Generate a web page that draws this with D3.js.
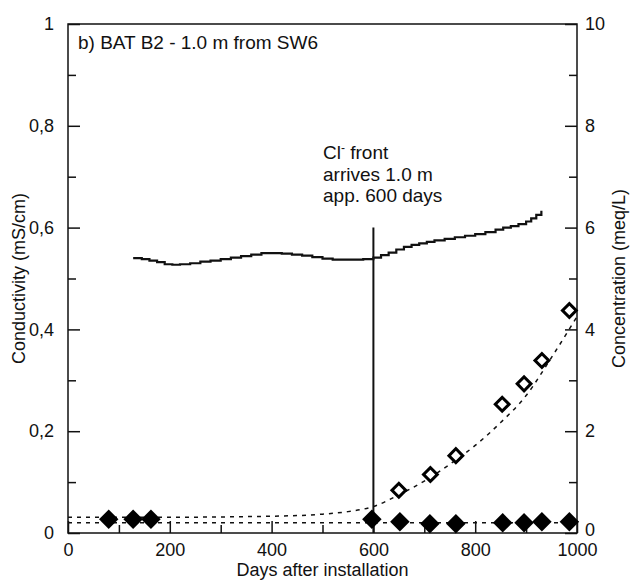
<!DOCTYPE html>
<html>
<head>
<meta charset="utf-8">
<script src="https://cdn.jsdelivr.net/npm/d3@7"></script>
<style>
  body { margin: 0; background: #fff; }
  svg text { font-family: 'Liberation Sans', Arial, sans-serif; fill: #111; }
</style>
</head>
<body>
<svg id="svg" width="630" height="581"></svg>
<script>
// conductivity (mS/cm), left axis
const condDays = [128, 145, 160, 175, 190, 205, 220, 240, 260, 280, 300, 320, 340, 360, 380, 400, 420, 440, 460, 480, 500, 520, 540, 560, 580, 600, 615, 630, 645, 660, 675, 690, 705, 720, 740, 760, 780, 800, 820, 840, 855, 870, 885, 900, 910, 920, 930]
const condValues = [0.54, 0.538, 0.535, 0.532, 0.528, 0.527, 0.528, 0.53, 0.533, 0.535, 0.538, 0.541, 0.544, 0.547, 0.55, 0.55, 0.549, 0.547, 0.545, 0.542, 0.539, 0.537, 0.537, 0.537, 0.538, 0.541, 0.546, 0.551, 0.557, 0.562, 0.566, 0.569, 0.572, 0.575, 0.578, 0.581, 0.584, 0.587, 0.591, 0.596, 0.6, 0.603, 0.607, 0.612, 0.618, 0.625, 0.633]

// Cl- concentration (meq/L), right axis, open diamonds
const clDays = [650, 712, 762, 853, 896, 931, 985]
const clValues = [0.84, 1.15, 1.52, 2.53, 2.93, 3.39, 4.37]

// other concentration (meq/L), filled diamonds
const baseDays = [80, 128, 163, 597, 652, 711, 762, 854, 896, 931, 985]
const baseValues = [0.27, 0.27, 0.27, 0.27, 0.22, 0.18, 0.18, 0.2, 0.2, 0.22, 0.22]

// dashed fitted curves (meq/L)
const fitDays = [0, 200, 400, 500, 550, 600, 650, 700, 750, 800, 850, 900, 950, 1000]
const fitValues = [0.31, 0.31, 0.33, 0.37, 0.42, 0.52, 0.75, 1.02, 1.35, 1.72, 2.17, 2.7, 3.45, 4.25]
const flatDays = [0, 1000]
const flatValues = [0.2, 0.2]

const frontDay = 600
const frontTop = 0.6

const leftTicks = [0, 0.2, 0.4, 0.6, 0.8, 1]
const rightTicks = [0, 2, 4, 6, 8, 10]
const xTicks = [0, 200, 400, 600, 800, 1000]

const margin = { left: 68, right: 577, top: 24, bottom: 533 }

const x = d3.scaleLinear().domain([0, 1000]).range([margin.left, margin.right])
const yL = d3.scaleLinear().domain([0, 1]).range([margin.bottom, margin.top])
const yR = d3.scaleLinear().domain([0, 10]).range([margin.bottom, margin.top])

const svg = d3.select('#svg')
const fmtL = d => d === 0 || d === 1 ? String(d) : d3.format('.1f')(d).replace('.', ',')

// frame
svg.append('rect')
  .attr('x', margin.left).attr('y', margin.top)
  .attr('width', margin.right - margin.left).attr('height', margin.bottom - margin.top)
  .attr('fill', 'none').attr('stroke', '#111').attr('stroke-width', 1.5)

// minor + major ticks, pointing inward
const bottomAxis = svg.append('g').attr('transform', `translate(0,${margin.bottom})`)
bottomAxis.call(d3.axisTop(x).tickValues(d3.range(100, 1000, 200)).tickSize(8).tickFormat(''))
bottomAxis.call(g => g.select('.domain').remove())
const bottomMajor = svg.append('g').attr('transform', `translate(0,${margin.bottom})`)
bottomMajor.call(d3.axisTop(x).tickValues(xTicks).tickSize(12).tickFormat(''))
bottomMajor.call(g => g.select('.domain').remove())
svg.append('g').attr('transform', `translate(0,${margin.bottom})`)
  .call(d3.axisBottom(x).tickValues(xTicks).tickSize(0).tickPadding(10).tickFormat(d3.format('d')))
  .call(g => g.select('.domain').remove())
  .selectAll('text').style('font-size', '18px')

const leftMinor = svg.append('g').attr('transform', `translate(${margin.left},0)`)
leftMinor.call(d3.axisRight(yL).tickValues(d3.range(0.1, 1, 0.2)).tickSize(8).tickFormat(''))
leftMinor.call(g => g.select('.domain').remove())
svg.append('g').attr('transform', `translate(${margin.left},0)`)
  .call(d3.axisRight(yL).tickValues(leftTicks).tickSize(12).tickFormat(''))
  .call(g => g.select('.domain').remove())
svg.append('g').attr('transform', `translate(${margin.left},0)`)
  .call(d3.axisLeft(yL).tickValues(leftTicks).tickSize(0).tickPadding(14).tickFormat(fmtL))
  .call(g => g.select('.domain').remove())
  .selectAll('text').style('font-size', '18px')

const rightMinor = svg.append('g').attr('transform', `translate(${margin.right},0)`)
rightMinor.call(d3.axisLeft(yR).tickValues(d3.range(1, 10, 2)).tickSize(8).tickFormat(''))
rightMinor.call(g => g.select('.domain').remove())
svg.append('g').attr('transform', `translate(${margin.right},0)`)
  .call(d3.axisLeft(yR).tickValues(rightTicks).tickSize(12).tickFormat(''))
  .call(g => g.select('.domain').remove())
svg.append('g').attr('transform', `translate(${margin.right},0)`)
  .call(d3.axisRight(yR).tickValues(rightTicks).tickSize(0).tickPadding(8))
  .call(g => g.select('.domain').remove())
  .selectAll('text').style('font-size', '18px')
  .attr('dy', d => d === 0 ? '0.12em' : '0.32em')

svg.selectAll('.tick line').attr('stroke', '#111').attr('stroke-width', 1.5)

// axis titles
svg.append('text')
  .attr('x', (margin.left + margin.right) / 2).attr('y', 576)
  .attr('text-anchor', 'middle').style('font-size', '18px')
  .text('Days after installation')
svg.append('text')
  .attr('transform', `translate(25,${(margin.top + margin.bottom) / 2}) rotate(-90)`)
  .attr('text-anchor', 'middle').style('font-size', '18px')
  .text('Conductivity (mS/cm)')
svg.append('text')
  .attr('transform', `translate(625,${(margin.top + margin.bottom) / 2}) rotate(-90)`)
  .attr('text-anchor', 'middle').style('font-size', '18px')
  .text('Concentration (meq/L)')

// panel label
svg.append('text')
  .attr('x', 78).attr('y', 49).style('font-size', '19px')
  .text('b) BAT B2 - 1.0 m from SW6')

// dashed curves
const fitLine = d3.line().x(d => x(d[0])).y(d => yR(d[1])).curve(d3.curveMonotoneX)
svg.append('path')
  .datum(fitDays.map((d, i) => [d, fitValues[i]]))
  .attr('d', fitLine)
  .attr('fill', 'none').attr('stroke', '#111').attr('stroke-width', 1.5)
  .attr('stroke-dasharray', '4,5')
svg.append('path')
  .datum(flatDays.map((d, i) => [d, flatValues[i]]))
  .attr('d', fitLine)
  .attr('fill', 'none').attr('stroke', '#111').attr('stroke-width', 1.5)
  .attr('stroke-dasharray', '4,5')

// conductivity line
const condLine = d3.line().x(d => x(d[0])).y(d => yL(d[1])).curve(d3.curveStepAfter)
svg.append('path')
  .datum(condDays.map((d, i) => [d, condValues[i]]))
  .attr('d', condLine)
  .attr('fill', 'none').attr('stroke', '#111').attr('stroke-width', 2.2)

// Cl- front marker
svg.append('line')
  .attr('x1', x(frontDay)).attr('x2', x(frontDay))
  .attr('y1', yL(frontTop)).attr('y2', yL(0))
  .attr('stroke', '#111').attr('stroke-width', 2)

const note = svg.append('g').style('font-size', '19px')
const t1 = note.append('text').attr('x', 323).attr('y', 159)
t1.append('tspan').text('Cl')
t1.append('tspan').attr('dy', -7).style('font-size', '12px').text('-')
t1.append('tspan').attr('dy', 7).text(' front')
note.append('text').attr('x', 323).attr('y', 181).text('arrives 1.0 m')
note.append('text').attr('x', 323).attr('y', 202).text('app. 600 days')

// diamonds
const filled = d3.symbol().type(d3.symbolSquare).size(190)
const open = d3.symbol().type(d3.symbolSquare).size(95)

svg.append('g').selectAll('path')
  .data(baseDays.map((d, i) => [d, baseValues[i]]))
  .join('path')
  .attr('d', filled)
  .attr('transform', d => `translate(${x(d[0])},${yR(d[1])}) rotate(45)`)
  .attr('fill', '#000')

svg.append('g').selectAll('path')
  .data(clDays.map((d, i) => [d, clValues[i]]))
  .join('path')
  .attr('d', open)
  .attr('transform', d => `translate(${x(d[0])},${yR(d[1])}) rotate(45)`)
  .attr('fill', '#fff').attr('stroke', '#000').attr('stroke-width', 3)
</script>
</body>
</html>
